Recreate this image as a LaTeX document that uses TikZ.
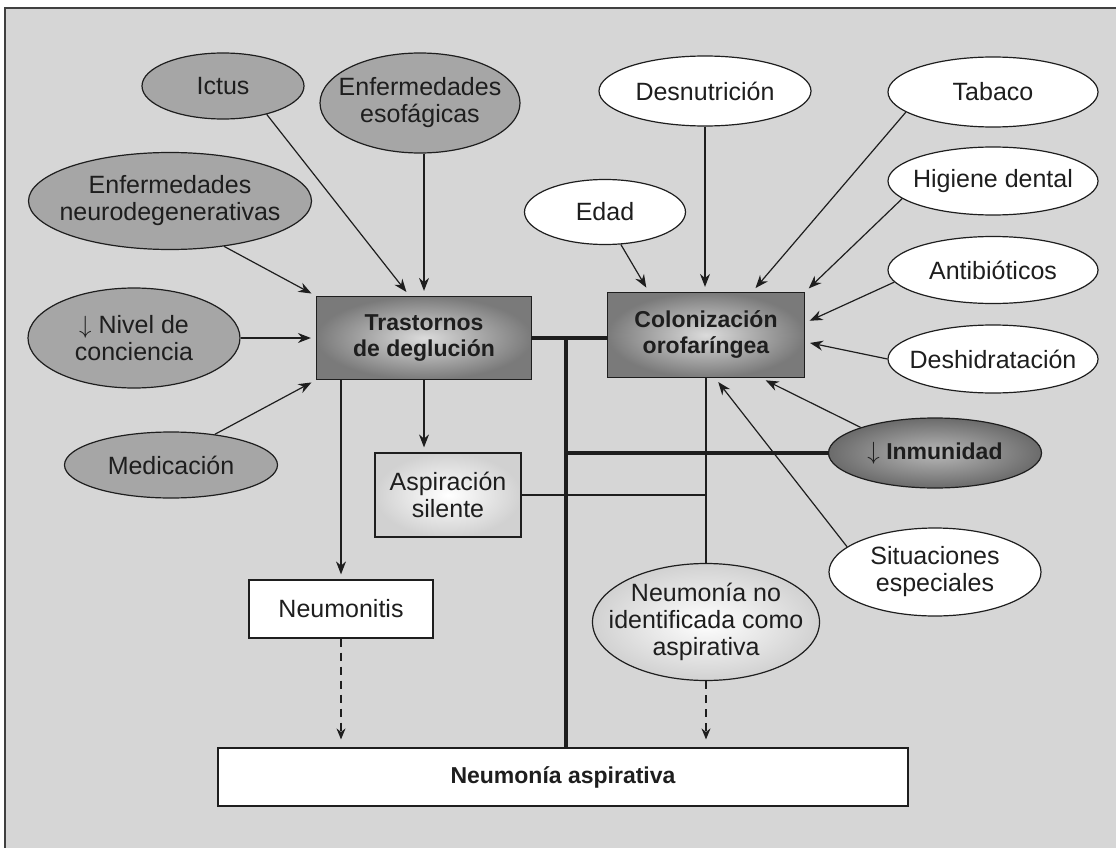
\documentclass[tikz,border=0pt]{standalone}
\usepackage{fontspec}
\setmainfont{Liberation Sans}
\usetikzlibrary{shapes.geometric,arrows.meta}
\definecolor{fondo}{RGB}{214,214,214}
\definecolor{grisfactor}{RGB}{166,166,166}
\definecolor{trazo}{RGB}{30,30,30}
\begin{document}
\begin{tikzpicture}[x=1pt,y=-1pt,
    every node/.style={text=trazo,align=center,inner sep=0pt,font=\fontsize{25}{27}\selectfont},
    factorgris/.style={ellipse,draw=trazo,line width=1.2pt,fill=grisfactor,inner xsep=-12pt},
    factorblanco/.style={ellipse,draw=trazo,line width=1.2pt,fill=white,inner xsep=-12pt},
    cajaoscura/.style={rectangle,draw=trazo,line width=1.2pt,inner color=black!14,outer color=black!52,
        font=\fontsize{23}{26}\selectfont\bfseries},
    cajaclara/.style={draw=trazo,line width=1.2pt,inner color=white,outer color=black!18},
    cajablanca/.style={rectangle,draw=trazo,line width=1.2pt,fill=white},
    flecha/.style={-{Stealth[length=13pt,width=10pt]},line width=1.2pt,draw=trazo,shorten >=5pt},
    flechadis/.style={-{Stealth[length=11pt,width=9pt]},line width=1.2pt,draw=trazo,
        dash pattern=on 8pt off 6pt,shorten >=8pt},
    gruesa/.style={line width=4.5pt,draw=trazo},
    fina/.style={line width=1.2pt,draw=trazo}]
    \useasboundingbox (0,0) rectangle (1116,848);
    \fill[white] (0,0) rectangle (1116,848);
    \fill[fondo] (5,8) rectangle (1116,848);
    \draw[gray!50!black,line width=2pt] (5,848) -- (5,8) -- (1116,8);

    % factores de los trastornos de deglucion
    \node[factorgris,minimum width=162,minimum height=66] (ictus) at (223,86) {Ictus};
    \node[factorgris,minimum width=200,minimum height=100] (esof) at (420,103) {Enfermedades\\esofágicas};
    \node[factorgris,minimum width=283,minimum height=97] (neuro) at (170,201) {Enfermedades\\neurodegenerativas};
    \node[factorgris,minimum width=212,minimum height=100] (nivel) at (134,338) {$\downarrow$ Nivel de\\conciencia};
    \node[factorgris,minimum width=213,minimum height=66] (medic) at (171,465) {Medicación};

    % factores de la colonizacion
    \node[factorblanco,minimum width=212,minimum height=70] (desnut) at (705,91) {Desnutrición};
    \node[factorblanco,minimum width=210,minimum height=70] (tabaco) at (993,92) {Tabaco};
    \node[factorblanco,minimum width=161,minimum height=65] (edad) at (605,212) {Edad};
    \node[factorblanco,minimum width=210,minimum height=68] (higiene) at (993,181) {Higiene dental};
    \node[factorblanco,minimum width=210,minimum height=67] (antib) at (993,270) {Antibióticos};
    \node[factorblanco,minimum width=210,minimum height=68] (deshid) at (993,359) {Deshidratación};
    \node[ellipse,draw=trazo,line width=1.2pt,inner color=black!28,outer color=black!58,
        font=\fontsize{23}{26}\selectfont\bfseries,minimum width=213,minimum height=70] (inmun) at (935,453) {$\downarrow$ Inmunidad};
    \node[factorblanco,minimum width=212,minimum height=88] (situ) at (935,572) {Situaciones\\especiales};

    \node[cajaoscura,minimum width=215,minimum height=83] (tras) at (424,338) {Trastornos\\de deglución};
    \node[cajaoscura,minimum width=197,minimum height=85] (colon) at (706,335) {Colonización\\orofaríngea};
    \node[cajaclara,rectangle,minimum width=146,minimum height=84] (silente) at (448,495) {Aspiración\\silente};
    \node[cajablanca,minimum width=184,minimum height=58] (neumonitis) at (341,609) {Neumonitis};
    \node[cajaclara,ellipse,inner xsep=-18pt,minimum width=227,minimum height=117] (noid) at (706,622) {Neumonía no\\identificada como\\aspirativa};
    \node[cajablanca,minimum width=690,minimum height=58,font=\fontsize{23}{26}\selectfont\bfseries] (aspir) at (563,777) {Neumonía aspirativa};

    \draw[flecha] (ictus.-33) -- (tras.109);
    \draw[flecha] (tras.north |- esof.south) -- (tras.north);
    \draw[flecha] (neuro.-40) -- (tras.north west);
    \draw[flecha] (nivel.east) -- (tras.west);
    \draw[flecha] (medic.35) -- (tras.south west);

    \draw[flecha] (edad.-64) -- (colon.143);
    \draw[flecha] (desnut.south) -- (desnut.south |- colon.north);
    \draw[flecha] (tabaco.193) -- (colon.43);
    \draw[flecha] (higiene.191) -- (colon.north east);
    \draw[flecha] (antib.187) -- (colon.7);
    \draw[flecha] (deshid.west) -- (colon.-4);
    \draw[flecha] (inmun.161) -- (colon.-38);
    \draw[flecha] (situ.164) -- (colon.-78);

    \draw[gruesa] (tras.east) -- (tras.east -| colon.west);
    \coordinate (cruce) at ([xshift=34pt]tras.east);
    \draw[gruesa] (cruce) -- (cruce |- aspir.north);
    \draw[gruesa] (cruce |- inmun.west) -- (inmun.west);
    \draw[fina] (silente.east) -- (silente.east -| colon.south);
    \draw[fina] (colon.south) -- (noid.north);

    \draw[flecha] (tras.south) -- (tras.south |- silente.north);
    \draw[flecha] (neumonitis.north |- tras.south) -- (neumonitis.north);
    \draw[flechadis] (neumonitis.south) -- (neumonitis.south |- aspir.north);
    \draw[flechadis] (noid.south) -- (noid.south |- aspir.north);
\end{tikzpicture}
\end{document}
